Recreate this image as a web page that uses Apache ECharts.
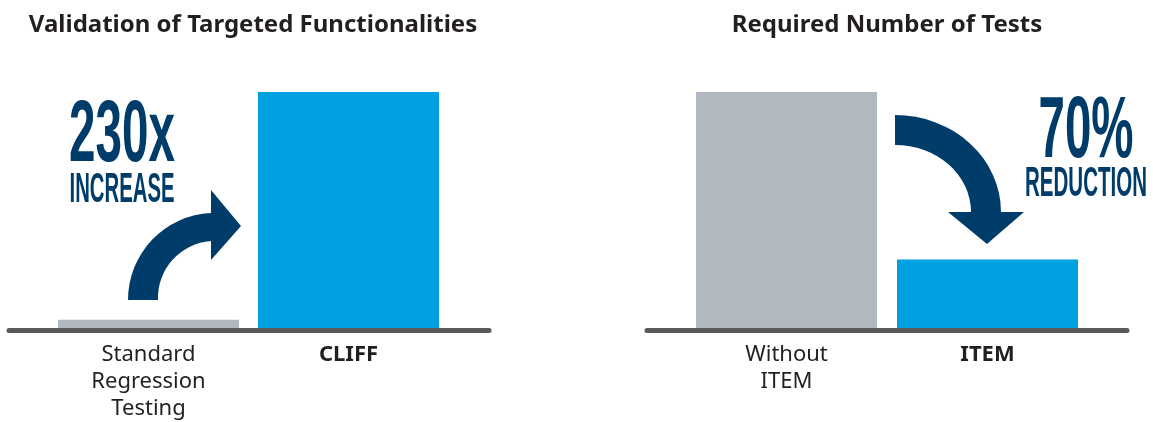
<!DOCTYPE html>
<html>
<head>
<meta charset="utf-8">
<script src="https://cdn.jsdelivr.net/npm/echarts@6/dist/echarts.min.js"></script>
<style>
  html, body { margin: 0; padding: 0; background: #fff; }
  #chart { width: 1153px; height: 422px; }
</style>
</head>
<body>
<div id="chart"></div>
<script>
// left panel
const leftTitle = 'Validation of Targeted Functionalities';
const leftCategories = ['Standard\nRegression\nTesting', 'CLIFF'];
const leftValues = [3.5, 100];
const leftCallout = ['230x', 'INCREASE'];

// right panel
const rightTitle = 'Required Number of Tests';
const rightCategories = ['Without\nITEM', 'ITEM'];
const rightValues = [100, 29];
const rightCallout = ['70%', 'REDUCTION'];

const GRAY = '#b1b8bf';
const BLUE = '#00a1e0';
const NAVY = '#003c6a';
const AXIS = '#58595b';
const INK = '#231f20';
const SANS = '"Noto Sans", "Open Sans", sans-serif';
const CONDENSED = '"Liberation Sans", Arial, sans-serif';

// curved arrow outlines (decoration, page pixels)
echarts.graphic.registerShape('arrowUp', echarts.graphic.extendPath(
    'M128 300 A87 87 0 0 1 211 213 L211 190 L241 226 L211 260 L211 241 A57 57 0 0 0 158 300 Z'));
echarts.graphic.registerShape('arrowDown', echarts.graphic.extendPath(
    'M895 115 A106 97 0 0 1 1001 212 L1024 212 L987 244 L948 212 L971 212 A76 67 0 0 0 895 145 Z'));

const chart = echarts.init(document.getElementById('chart'));

// the callout font is a squeezed bold sans, so work out the squeeze from the text width
const measureCtx = document.createElement('canvas').getContext('2d');
function squeeze(text, size, width) {
    measureCtx.font = 'bold ' + size + 'px ' + CONDENSED;
    return width / measureCtx.measureText(text).width;
}

// second category is the highlighted one, bold label + blue bar
function catData(cats) {
    return cats.map((c, i) => i === 1 ? { value: c, textStyle: { fontWeight: 'bold' } } : c);
}
function barData(vals) {
    return vals.map((v, i) => ({ value: v, itemStyle: { color: i === 1 ? BLUE : GRAY } }));
}

const barXAxis = (gridIndex, cats) => ({
    type: 'category',
    gridIndex: gridIndex,
    data: catData(cats),
    axisLine: { show: false },
    axisTick: { show: false },
    axisLabel: {
        color: INK,
        fontFamily: SANS,
        fontSize: 22,
        lineHeight: 27,
        margin: 13,
        interval: 0
    }
});
const baseXAxis = (gridIndex) => ({
    type: 'category',
    gridIndex: gridIndex,
    data: [''],
    axisLine: { lineStyle: { color: AXIS, width: 5, cap: 'round' } },
    axisTick: { show: false },
    axisLabel: { show: false }
});
const hiddenY = (gridIndex) => ({
    type: 'value', gridIndex: gridIndex, min: 0, max: 100, show: false
});

function calloutText(text, cx, y, size, width) {
    return {
        type: 'text', x: cx, y: y, scaleX: squeeze(text, size, width),
        style: {
            text: text, fill: NAVY, fontFamily: CONDENSED, fontWeight: 'bold', fontSize: size,
            textAlign: 'center', textVerticalAlign: 'middle', align: 'center', verticalAlign: 'middle'
        }
    };
}

const option = {
    animation: false,
    backgroundColor: '#fff',
    title: [
        {
            text: leftTitle, left: 248, top: 8, textAlign: 'center',
            textStyle: { color: INK, fontFamily: SANS, fontWeight: 'bold', fontSize: 24 }
        },
        {
            text: rightTitle, left: 882, top: 8, textAlign: 'center',
            textStyle: { color: INK, fontFamily: SANS, fontWeight: 'bold', fontSize: 24 }
        }
    ],
    grid: [
        { left: 48.5, width: 400, top: 92, bottom: 94 },
        { left: 686, width: 402, top: 92, bottom: 94 },
        { left: 9, width: 480, top: 92, bottom: 91.5 },
        { left: 647, width: 480, top: 92, bottom: 91.5 }
    ],
    xAxis: [
        barXAxis(0, leftCategories),
        barXAxis(1, rightCategories),
        baseXAxis(2),
        baseXAxis(3)
    ],
    yAxis: [hiddenY(0), hiddenY(1), hiddenY(2), hiddenY(3)],
    series: [
        { type: 'bar', xAxisIndex: 0, yAxisIndex: 0, barWidth: 181, data: barData(leftValues) },
        { type: 'bar', xAxisIndex: 1, yAxisIndex: 1, barWidth: 181, data: barData(rightValues) }
    ],
    graphic: [
        { type: 'arrowUp', style: { fill: NAVY } },
        { type: 'arrowDown', style: { fill: NAVY } },
        calloutText(leftCallout[0], 122, 137, 88, 106),
        calloutText(leftCallout[1], 122, 190.5, 42, 105),
        calloutText(rightCallout[0], 1086, 133.5, 87, 95),
        calloutText(rightCallout[1], 1086, 184.5, 42, 122)
    ]
};

chart.setOption(option);
</script>
</body>
</html>
